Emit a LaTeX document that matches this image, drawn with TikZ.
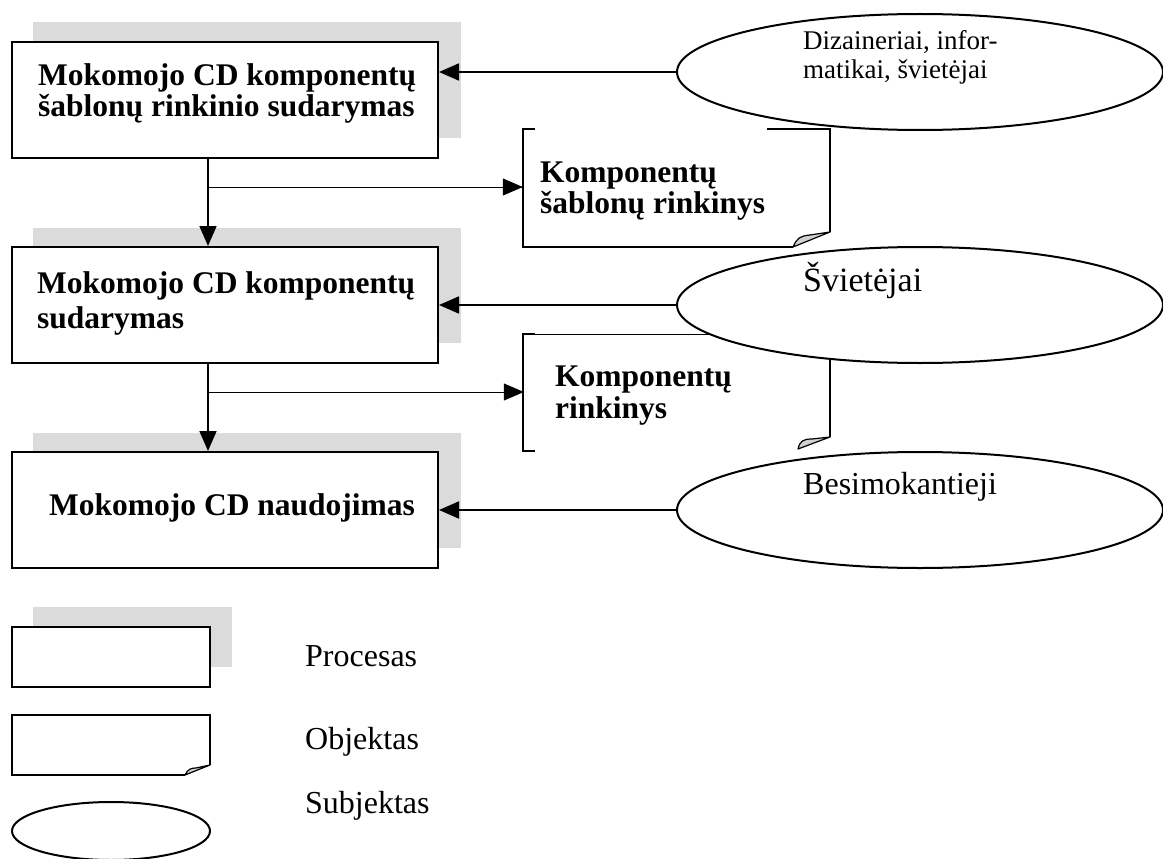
\documentclass[tikz,border=0pt]{standalone}
\usepackage{fontspec}
\setmainfont{Liberation Serif}
\usetikzlibrary{arrows.meta,shapes.geometric}
\begin{document}
\begin{tikzpicture}[x=1pt,y=-1pt,
 procbox/.style={draw,line width=2pt,fill=white,minimum width=426pt,minimum height=116pt,inner sep=0pt},
 shadowfill/.style={fill=black!14},
 subj/.style={draw,ellipse,line width=2pt,fill=white,minimum width=486pt,minimum height=116pt,inner sep=0pt},
 objarea/.style={minimum width=307pt,minimum height=118pt,inner sep=0pt},
 objline/.style={line width=2pt},
 objthin/.style={line width=0.8pt},
 foldfill/.style={fill=black!18,draw,line width=1.2pt,line join=round},
 arr/.style={line width=1.8pt,-{Triangle[length=20pt,width=17pt]}},
 branch/.style={line width=1pt},
 btxt/.style={font=\fontsize{31.5}{33}\selectfont\bfseries,inner sep=0pt,anchor=base west},
 rtxt/.style={font=\fontsize{32}{34}\selectfont,inner sep=0pt,anchor=base west},
 stxt/.style={font=\fontsize{27}{29}\selectfont,inner sep=0pt,anchor=base west},
]
\useasboundingbox (0,0) rectangle (1163,859);

% shadows
\fill[shadowfill] (33,22) rectangle (461,138);
\fill[shadowfill] (33,228) rectangle (461,343);
\fill[shadowfill] (33,433) rectangle (461,548);
\fill[shadowfill] (33,607) rectangle (232,667);

% process boxes
\node[procbox] (p1) at (225,100) {};
\node[procbox] (p2) at (225,305) {};
\node[procbox] (p3) at (225,510) {};

\node[btxt] (t1a) at (38,85) {Mokomojo CD komponentų};
\node[btxt] (t1b) at (38,117) {šablonų rinkinio sudarymas};
\node[btxt] (t2a) at (37,293) {Mokomojo CD komponentų};
\node[btxt] (t2b) at (37,328) {sudarymas};
\node[btxt] (t3) at (49,515) {Mokomojo CD naudojimas};

% objects
\node[objarea] (o1) at (676.5,188) {};
\draw[objline] (535,129) -- (523,129) -- (523,247) -- (793,247);
\draw[objline] (767,129) -- (830,129) -- (830,232);
\draw[foldfill] (793,247) .. controls (797,238) and (800,236) .. (810,235) -- (830,232) -- cycle;
\node[btxt] (o1a) at (540,182) {Komponentų};
\node[btxt] (o1b) at (540,213) {šablonų rinkinys};

\node[objarea] (o2) at (677.5,392.5) {};
\draw[objline] (535,334) -- (523,334) -- (523,451) -- (535,451);
\draw[objthin] (535,334) -- (720,334);
\draw[objline] (830,355) -- (830,437);
\draw[foldfill] (798,449) .. controls (800,441) and (803,439) .. (812,439) -- (830,437) -- cycle;
\node[btxt] (o2a) at (555,386) {Komponentų};
\node[btxt] (o2b) at (555,418) {rinkinys};

% subjects (ellipses)
\node[subj] (s1) at (920,72) {};
\node[subj] (s2) at (920,305) {};
\node[subj] (s3) at (920,510) {};
\node[stxt] (s1a) at (803,50) {Dizaineriai, infor-};
\node[stxt] (s1b) at (803,79) {matikai, švietėjai};
\node[rtxt,font=\fontsize{34}{36}\selectfont] (s2a) at (803,291) {Švietėjai};
\node[rtxt] (s3a) at (803,494) {Besimokantieji};

% connectors
\draw[arr] (s1.west) -- (s1.west -| p1.east);
\draw[arr] (s2.west) -- (s2.west -| p2.east);
\draw[arr] (s3.west) -- (s3.west -| p3.east);

\coordinate (v1) at ([xshift=-17pt]p1.south);
\coordinate (v2) at ([xshift=-17pt]p2.south);
\draw[arr] (v1) -- (v1 |- p2.north);
\draw[arr] (v2) -- (v2 |- p3.north);
\draw[branch] (v1 |- 0,187) -- (o1.west |- 0,187);
\draw[arr,line width=1pt] (450,187) -- (o1.west |- 0,187);
\draw[branch] (v2 |- 0,392) -- (o2.west |- 0,392);
\draw[arr,line width=1pt] (450,392) -- (o2.west |- 0,392);

% legend
\node[draw,line width=2pt,fill=white,minimum width=198pt,minimum height=60pt,inner sep=0pt] (lp) at (111,657) {};
\node[objarea,minimum width=198pt,minimum height=60pt] (lo) at (111,745) {};
\draw[objline] (185,775) -- (12,775) -- (12,715) -- (210,715) -- (210,765);
\draw[foldfill] (185,775) .. controls (188,769) and (191,768) .. (196,768) -- (210,765) -- cycle;
\node[draw,ellipse,line width=2pt,minimum width=198pt,minimum height=58pt,inner sep=0pt] (ls) at (111,831) {};
\node[rtxt] (lpt) at (305,666) {Procesas};
\node[rtxt] (lot) at (305,749) {Objektas};
\node[rtxt] (lst) at (305,813) {Subjektas};
\end{tikzpicture}
\end{document}
